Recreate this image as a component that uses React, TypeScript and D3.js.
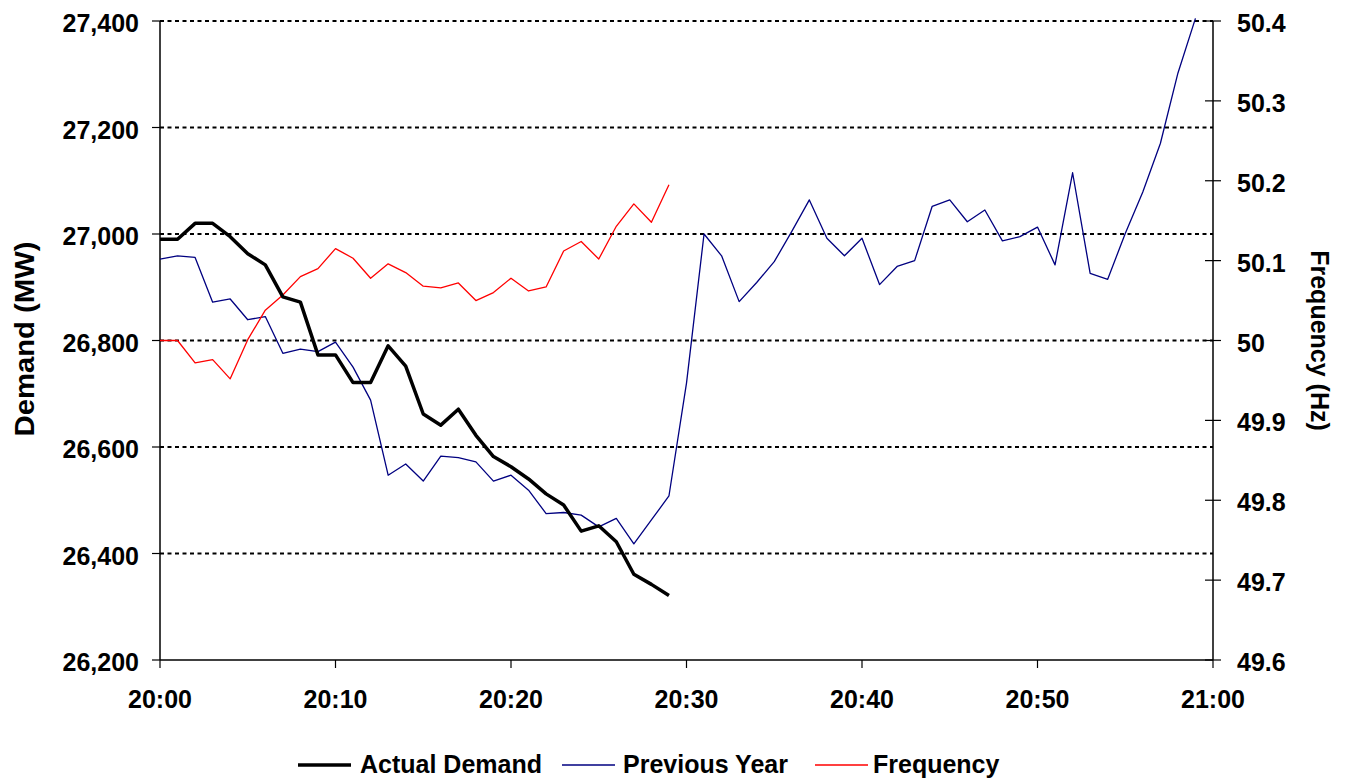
import React from "react";
import * as d3 from "d3";

// ---- Data (minute steps from 20:00) ----
const xTickLabels = ["20:00", "20:10", "20:20", "20:30", "20:40", "20:50", "21:00"];
const xTickMinutes = [0, 10, 20, 30, 40, 50, 60];

const actualDemand = [
  26990, 26990, 27020, 27020, 26995, 26963, 26942, 26882, 26872, 26773,
  26773, 26721, 26721, 26790, 26752, 26662, 26641, 26671, 26622, 26582,
  26563, 26540, 26512, 26491, 26442, 26452, 26422, 26361, 26342, 26321,
];

const previousYear = [
  26953, 26959, 26956, 26872, 26878, 26839, 26845, 26776, 26784, 26779,
  26797, 26750, 26688, 26547, 26568, 26536, 26583, 26580, 26572, 26536,
  26547, 26519, 26475, 26477, 26472, 26450, 26466, 26418, 26463, 26508,
  26720, 27000, 26959, 26873, 26909, 26948, 27005, 27064, 26992, 26959,
  26992, 26905, 26939, 26950, 27052, 27064, 27023, 27045, 26987, 26995,
  27013, 26942, 27115, 26926, 26915, 27001, 27079, 27170, 27302, 27405,
];

const frequency = [
  50.0, 50.0, 49.972, 49.976, 49.952, 50.001, 50.038, 50.057, 50.08, 50.09,
  50.115, 50.103, 50.078, 50.096, 50.085, 50.068, 50.066, 50.072, 50.05, 50.06,
  50.078, 50.062, 50.067, 50.112, 50.124, 50.102, 50.143, 50.171, 50.148, 50.195,
];

const leftDomain = [26200, 27400];
const rightDomain = [49.6, 50.4];
const legendItems = [
  { label: "Actual Demand", color: "#000000", width: 3.5 },
  { label: "Previous Year", color: "#000080", width: 1.3 },
  { label: "Frequency", color: "#FF0000", width: 1.3 },
];

export default function App() {
  const W = 1347;
  const H = 782;
  const left = 160;
  const right = 1213;
  const top = 21;
  const bottom = 660;
  const font = "'Liberation Sans', Arial, Helvetica, sans-serif";

  const x = d3.scaleLinear().domain([0, 60]).range([left, right]);
  const yL = d3.scaleLinear().domain(leftDomain).range([bottom, top]);
  const yR = d3.scaleLinear().domain(rightDomain).range([bottom, top]);

  const lineL = d3
    .line<number>()
    .x((_, i) => x(i))
    .y((d) => yL(d));
  const lineR = d3
    .line<number>()
    .x((_, i) => x(i))
    .y((d) => yR(d));

  const leftTicks = yL.ticks(6);
  const rightTicks = yR.ticks(8);
  const fmtL = d3.format(",");
  const fmtR = (d: number) => String(+d.toFixed(1));

  const legendPos = [
    { sx: 298, tx: 360 },
    { sx: 562, tx: 623 },
    { sx: 815, tx: 873 },
  ];

  return (
    <svg
      width={W}
      height={H}
      style={{ position: "absolute", left: 0, top: 0, background: "#fff" }}
      fontFamily={font}
      fontWeight="bold"
    >
      <rect x={0} y={0} width={W} height={H} fill="#fff" />
      {/* gridlines */}
      {leftTicks
        .filter((t) => t !== leftDomain[0])
        .map((t) => (
          <line
            key={"g" + t}
            x1={left}
            x2={right}
            y1={yL(t)}
            y2={yL(t)}
            stroke="#000"
            strokeWidth={2}
            strokeDasharray="4,3.5"
          />
        ))}

      {/* axes */}
      <line x1={left} x2={left} y1={top} y2={bottom} stroke="#000" strokeWidth={1.5} />
      <line x1={right} x2={right} y1={top} y2={bottom} stroke="#000" strokeWidth={1.5} />
      <line x1={left} x2={right} y1={bottom} y2={bottom} stroke="#000" strokeWidth={1.5} />

      {leftTicks.map((t) => (
        <g key={"l" + t}>
          <line x1={left - 8} x2={left} y1={yL(t)} y2={yL(t)} stroke="#000" strokeWidth={1.2} />
          <text x={139} y={yL(t) + 11} fontSize={25} textAnchor="end" fill="#000">
            {fmtL(t)}
          </text>
        </g>
      ))}

      {rightTicks.map((t) => (
        <g key={"r" + t}>
          <line x1={right - 8} x2={right + 8} y1={yR(t)} y2={yR(t)} stroke="#000" strokeWidth={1.2} />
          <text x={1237} y={yR(t) + 11} fontSize={25} textAnchor="start" fill="#000">
            {fmtR(t)}
          </text>
        </g>
      ))}

      {xTickMinutes.map((m, i) => (
        <g key={"x" + m}>
          <line x1={x(m)} x2={x(m)} y1={bottom} y2={bottom + 8} stroke="#000" strokeWidth={1.2} />
          <text x={x(m)} y={708} fontSize={25} textAnchor="middle" fill="#000">
            {xTickLabels[i]}
          </text>
        </g>
      ))}

      {/* axis titles */}
      <text
        transform={`translate(34, 339) rotate(-90)`}
        fontSize={27}
        textAnchor="middle"
        textLength={195}
        lengthAdjust="spacingAndGlyphs"
        fill="#000"
      >
        Demand (MW)
      </text>
      <text
        transform={`translate(1311, ${(top + bottom) / 2}) rotate(90)`}
        fontSize={25}
        textAnchor="middle"
        fill="#000"
      >
        Frequency (Hz)
      </text>

      {/* series */}
      <path d={lineL(previousYear) || ""} fill="none" stroke="#000080" strokeWidth={1.3} strokeLinejoin="round" />
      <path d={lineR(frequency) || ""} fill="none" stroke="#FF0000" strokeWidth={1.3} strokeLinejoin="round" />
      <path d={lineL(actualDemand) || ""} fill="none" stroke="#000" strokeWidth={3.5} strokeLinejoin="round" />

      {/* legend */}
      {legendItems.map((it, i) => (
        <g key={it.label}>
          <line
            x1={legendPos[i].sx}
            x2={legendPos[i].sx + 53}
            y1={765}
            y2={765}
            stroke={it.color}
            strokeWidth={it.width}
          />
          <text x={legendPos[i].tx} y={773} fontSize={25} fill="#000">
            {it.label}
          </text>
        </g>
      ))}
    </svg>
  );
}
